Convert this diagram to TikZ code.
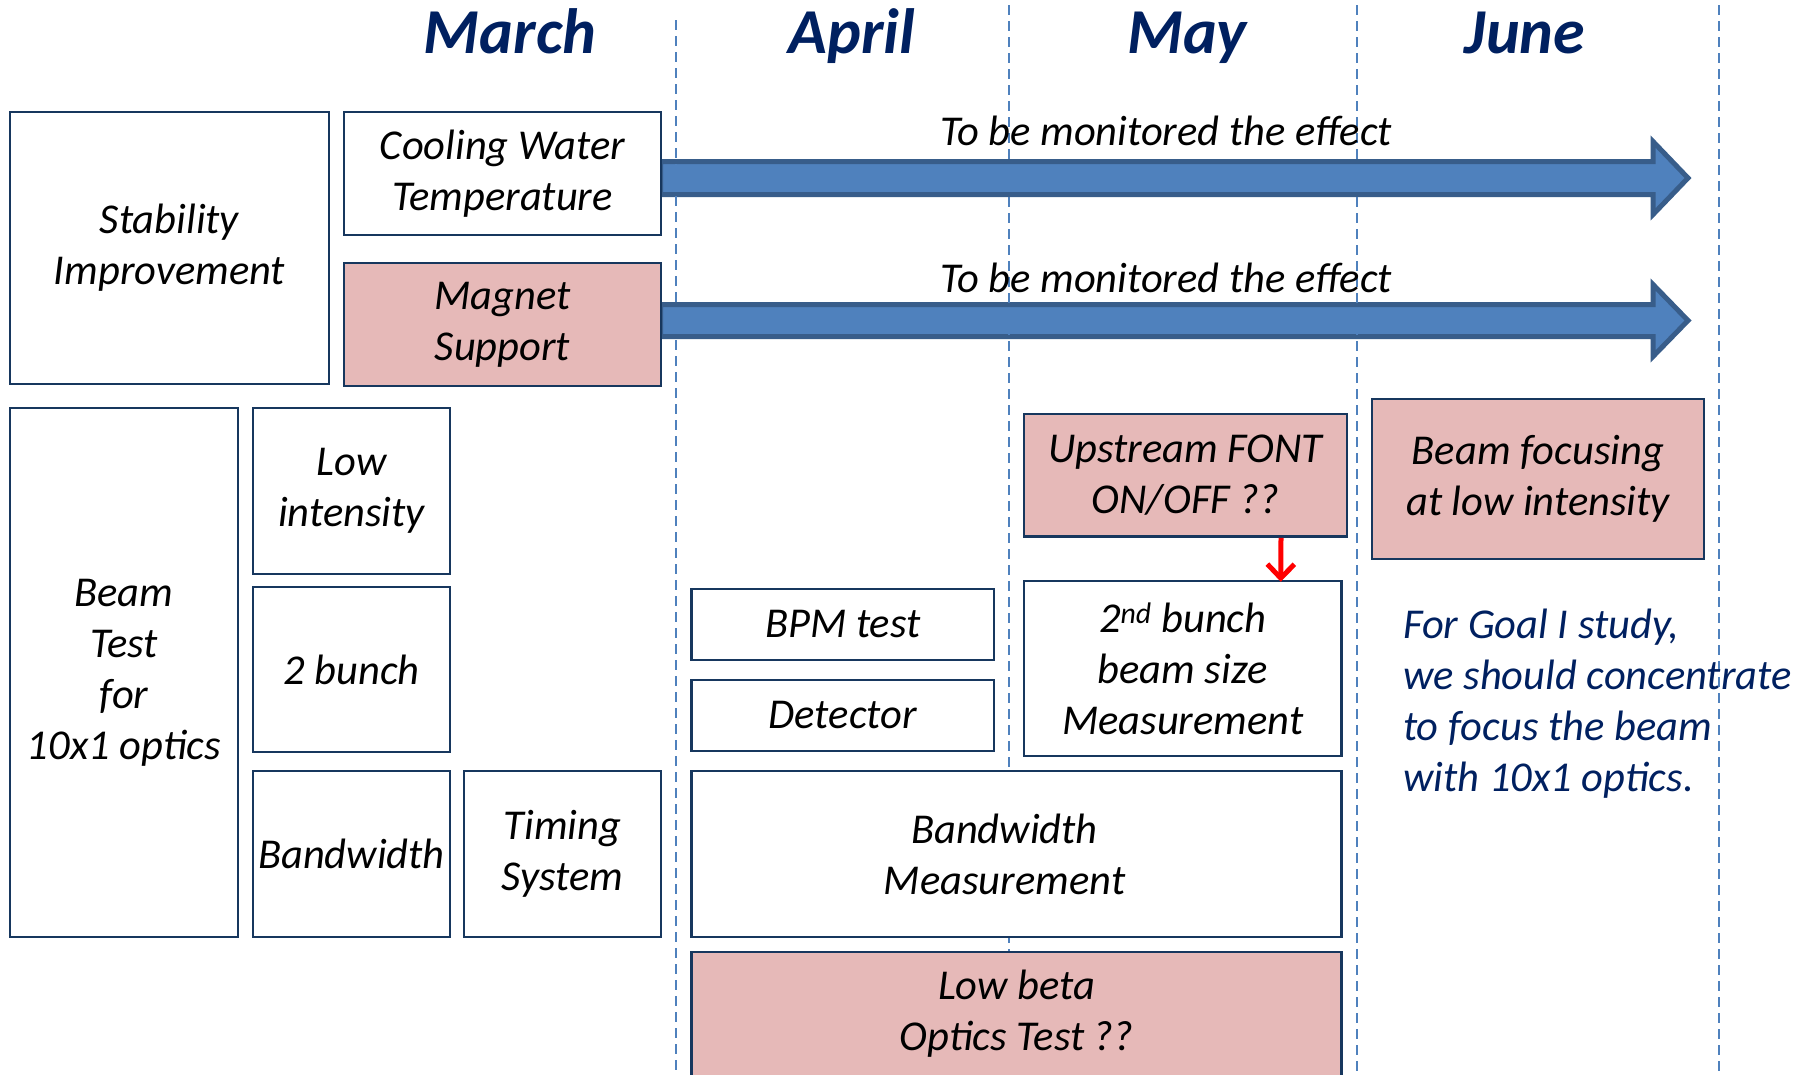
\documentclass[tikz,border=0pt]{standalone}
\usepackage{fontspec}
\setmainfont{Carlito}
\usepackage{tikz}
\usetikzlibrary{arrows.meta}

\definecolor{navy}{RGB}{0,32,96}
\definecolor{boxblue}{RGB}{23,55,94}
\definecolor{boxpink}{RGB}{230,185,184}
\definecolor{arrowblue}{RGB}{79,129,189}
\definecolor{arrowedge}{RGB}{56,93,138}
\definecolor{gridblue}{RGB}{79,129,189}

\newcommand\bodyfont{\fontsize{42.5}{51}\selectfont\itshape}
\newcommand\monthfont{\fontsize{64}{70}\selectfont\bfseries\itshape}

\tikzset{
  planbox/.style={draw=boxblue, line width=2.5pt, fill=white, align=center, inner sep=0pt, font=\bodyfont},
  pinkbox/.style={planbox, fill=boxpink},
  month/.style={font=\monthfont, text=navy, anchor=base},
  gridline/.style={draw=gridblue, line width=2pt, dash pattern=on 10pt off 6pt},
  bigarrow/.style={fill=arrowblue, draw=arrowedge, line width=5pt},
  redarrow/.style={draw=red, line width=5pt, -{Straight Barb[length=14pt,width=27pt]}},
}

\begin{document}
\begin{tikzpicture}[x=1pt,y=-1pt]
\useasboundingbox (0,0) rectangle (1804,1074);

%Right Arrow: cooling water
\draw[bigarrow] (660.5,161.5) -- (1653,161.5) -- (1653,141.5) -- (1688,178) -- (1653,214.5) -- (1653,194.5) -- (660.5,194.5) -- cycle ;
%Right Arrow: magnet support
\draw[bigarrow] (660.5,304.5) -- (1653,304.5) -- (1653,284.5) -- (1688,320.5) -- (1653,356.5) -- (1653,336.5) -- (660.5,336.5) -- cycle ;

%Month borders
\draw[gridline] (676,20) -- (676,1074);
\foreach \gx in {1009,1357,1719}
  \draw[gridline] (\gx,5) -- (\gx,1074);

% Month titles
\node[month] (march) at (510,53) {March};
\node[month] (april) at (852,53) {April};
\node[month] (may) at (1187,53) {May};
\node[month] (june) at (1525,53) {June};

%Box: stability group
\node[planbox, minimum width=319, minimum height=272] (stab) at (169.5,248) {Stability\\Improvement};
\node[planbox, minimum width=317, minimum height=123] (cool) at (502.5,173.5) {Cooling Water\\Temperature};
\node[pinkbox, minimum width=317, minimum height=123] (magnet) at (502.5,324.5) {Magnet\\Support};

%Box: beam test group
\node[planbox, minimum width=228, minimum height=529] (beamtest) at (124,672.5) {Beam\\Test\\for\\10x1 optics};
\node[planbox, minimum width=197, minimum height=166] (lowint) at (351.5,491) {Low\\ intensity};
\node[planbox, minimum width=197, minimum height=165] (twobunch) at (351.5,669.5) {2 bunch};
\node[planbox, minimum width=197, minimum height=166] (bwidth) at (351.5,854) {Bandwidth};
\node[planbox, minimum width=197, minimum height=166] (timing) at (562.5,854) {Timing\\System};

%Box: april / may
\node[planbox, minimum width=302.5, minimum height=71] (bpm) at (842.75,624.5) {BPM test};
\node[planbox, minimum width=302.5, minimum height=71] (detector) at (842.75,715.5) {Detector};
\node[planbox, minimum width=650, minimum height=166] (bwmeas) at (1016.5,854) {Bandwidth\hspace*{24pt}\\Measurement\hspace*{24pt}};
\node[pinkbox, minimum width=650, minimum height=124] (lowbeta) at (1016.5,1014) {Low beta\\Optics Test ??};
\node[pinkbox, minimum width=323, minimum height=122.5] (upfont) at (1185.5,475.25) {Upstream FONT\\ON/OFF ??};
\node[planbox, minimum width=317.5, minimum height=175] (bunch2) at (1182.75,668.5) {2\textsuperscript{nd} bunch\\beam size\\Measurement};

%Box: june
\node[pinkbox, minimum width=332, minimum height=160] (focus) at (1538,479) {Beam focusing\\at low intensity};

% Text Node
\node[font=\bodyfont, anchor=base] (monitor1) at (1166,145) {To be monitored the effect};
\node[font=\bodyfont, anchor=base] (monitor2) at (1166,292) {To be monitored the effect};
\node[font=\bodyfont, text=navy, align=left, inner sep=0pt, anchor=north west] (goal) at (1403,609) {For Goal I study,\\we should concentrate\\to focus the beam\\with 10x1 optics.};

%Red arrow
\draw[redarrow] ([xshift=95.5]upfont.south) -- ([xshift=98,yshift=-2]bunch2.north);
\end{tikzpicture}
\end{document}
